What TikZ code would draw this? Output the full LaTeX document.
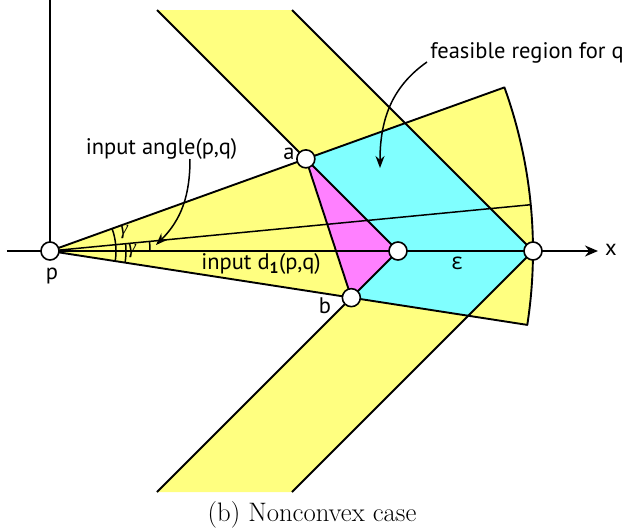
\documentclass[tikz,border=0pt]{standalone}
\usepackage{fontspec}
\setsansfont{PT Sans}
\newfontfamily\grkfont{Open Sans}
\newfontfamily\grkserif{Liberation Serif}
\usetikzlibrary{arrows.meta}
\definecolor{fyellow}{RGB}{255,255,128}
\definecolor{fcyan}{RGB}{128,255,255}
\definecolor{fmag}{RGB}{255,128,255}
\tikzset{
  ln/.style={line width=1.9pt, line join=round},
  thinln/.style={line width=1.5pt},
  dot/.style={circle, draw=black, fill=white, line width=1.6pt, minimum size=18pt, inner sep=0pt},
  lbl/.style={font=\sffamily\fontsize{22.5}{26}\selectfont, inner sep=0pt},
  glbl/.style={font=\grkserif\itshape\fontsize{20}{24}\selectfont, inner sep=0pt},
  tip/.style={-{Stealth[length=13pt,width=11pt]}},
  ctip/.style={-{Stealth[length=12pt,width=9pt]}, line width=1.5pt},
}
\begin{document}
\begin{tikzpicture}[x=1pt,y=1pt]
\useasboundingbox (-50,-280) rectangle (575,251);
% geometry
\coordinate (P) at (0,0);
\coordinate (C) at (348,0);
\coordinate (E) at (483,0);
\coordinate (A) at (255.88,92.12);
\coordinate (B) at (301.35,-46.65);
\coordinate (U2) at (355.14,127.86);
\coordinate (L2) at (418.25,-64.75);
\coordinate (UC) at (19.8:483);
\coordinate (LC) at (-8.8:483);
\coordinate (MC) at (5.5:483);
\coordinate (T1) at (107,241);
\coordinate (T2) at (242,241);
\coordinate (B1) at (107,-241);
\coordinate (B2) at (242,-241);
% yellow regions
\fill[fyellow] (P) -- (UC) arc[start angle=19.8, end angle=-8.8, radius=483] -- cycle;
\fill[fyellow] (T1) -- (T2) -- (E) -- (C) -- cycle;
\fill[fyellow] (C) -- (E) -- (B2) -- (B1) -- cycle;
% cyan region
\fill[fcyan] (A) -- (U2) -- (E) -- (L2) -- (B) -- (C) -- cycle;
% magenta triangle
\fill[fmag] (A) -- (C) -- (B) -- cycle;
% axes
\coordinate (XL) at (-43,0);
\coordinate (XR) at (548,0);
\coordinate (YT) at (0,251);
\draw[ln] (P) -- (YT);
\draw[ln, tip] (XL) -- (XR);
% sector outline
\draw[ln] (P) -- (UC) arc[start angle=19.8, end angle=-8.8, radius=483] -- cycle;
% band edges
\draw[ln] (T1) -- (C);
\draw[ln] (T2) -- (E);
\draw[ln] (B1) -- (C);
\draw[ln] (B2) -- (E);
\draw[ln] (A) -- (B);
% input angle line
\draw[thinln] (P) -- (MC);
% angle arcs
\draw[thinln] (-8.8:66) arc[start angle=-8.8, end angle=19.8, radius=66];
\draw[thinln] (-8.8:76) arc[start angle=-8.8, end angle=5.5, radius=76];
\draw[thinln] (0:100) arc[start angle=0, end angle=5.5, radius=100];
\node[glbl] (g1) at (74,19) {γ};
\node[glbl] (g2) at (82,0) {γ};
% points
\node[dot] (p) at (P) {};
\node[dot] (a) at (A) {};
\node[dot] (b) at (B) {};
\node[dot] (c) at (C) {};
\node[dot] (e) at (E) {};
% labels
\node[lbl] (pl) at (2,-25) {p};
\node[lbl] (al) at (239,97) {a};
\node[lbl] (bl) at (275,-55) {b};
\node[lbl] (xl) at (561,1) {x};
\node[font=\grkfont\fontsize{23}{26}\selectfont, inner sep=0pt] (el) at (407,-12) {ε};
\node[lbl] (ang) at (111.5,102) {input angle(p,q)};
\node[lbl] (dl) at (211,-13) {input d\textsubscript{\bfseries 1}(p,q)};
\node[lbl] (fr) at (477,198) {feasible region for q};
% arrows
\coordinate (angS) at (140,92);
\coordinate (angT) at (106,6);
\draw[ctip] (angS) to[out=-90, in=45] (angT);
\coordinate (frS) at (377,189);
\coordinate (frT) at (330,83);
\draw[ctip] (frS) to[out=215, in=90] (frT);
% caption
\node[font=\fontsize{26.7}{32}\selectfont, inner sep=0pt] (cap) at (262,-264) {(b) Nonconvex case};
\end{tikzpicture}
\end{document}
